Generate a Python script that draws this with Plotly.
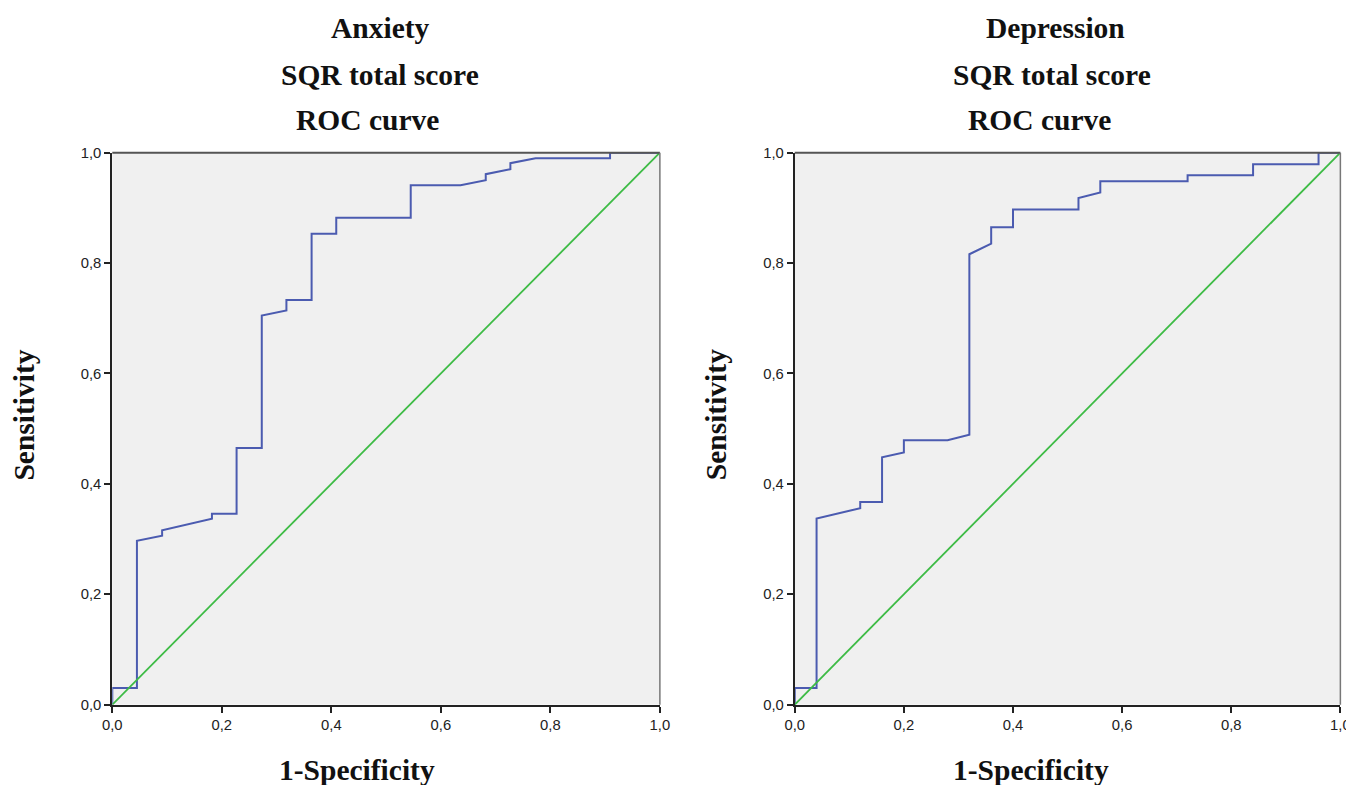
import plotly.graph_objects as go

W, H = 1354, 785

# ---- data ----
anx_fpr = [0, 0, 0.045, 0.045, 0.091, 0.091, 0.182, 0.182, 0.227, 0.227, 0.273, 0.273,
           0.318, 0.318, 0.364, 0.364, 0.409, 0.409, 0.545, 0.545, 0.636, 0.682, 0.682,
           0.727, 0.727, 0.773, 0.909, 0.909, 1.0]
anx_tpr = [0, 0.03, 0.03, 0.297, 0.306, 0.316, 0.337, 0.346, 0.346, 0.465, 0.465, 0.705,
           0.714, 0.733, 0.733, 0.853, 0.853, 0.882, 0.882, 0.941, 0.941, 0.950, 0.961,
           0.970, 0.981, 0.990, 0.990, 1.0, 1.0]

dep_fpr = [0, 0, 0.04, 0.04, 0.12, 0.12, 0.16, 0.16, 0.20, 0.20, 0.28, 0.32, 0.32,
           0.36, 0.36, 0.40, 0.40, 0.52, 0.52, 0.56, 0.56, 0.72, 0.72, 0.84, 0.84,
           0.96, 0.96, 1.0]
dep_tpr = [0, 0.03, 0.03, 0.337, 0.356, 0.367, 0.367, 0.448, 0.457, 0.479, 0.479, 0.489,
           0.816, 0.835, 0.865, 0.865, 0.897, 0.897, 0.918, 0.928, 0.948, 0.948, 0.959,
           0.959, 0.979, 0.979, 1.0, 1.0]

ref_x = [0, 1]
ref_y = [0, 1]

titles_left = ["Anxiety", "SQR total score", "ROC curve"]
titles_right = ["Depression", "SQR total score", "ROC curve"]
x_title = "1-Specificity"
y_title = "Sensitivity"
tick_vals = [0, 0.2, 0.4, 0.6, 0.8, 1.0]

BLUE = "#4B5BB0"
GREEN = "#3DBB45"


def px(x):
    return x / W


def py(y):
    return 1 - y / H


fig = go.Figure()

fig.add_trace(go.Scatter(x=anx_fpr, y=anx_tpr, mode="lines",
                         line=dict(color=BLUE, width=2), xaxis="x", yaxis="y",
                         showlegend=False))
fig.add_trace(go.Scatter(x=ref_x, y=ref_y, mode="lines",
                         line=dict(color=GREEN, width=1.8), xaxis="x", yaxis="y",
                         showlegend=False))
fig.add_trace(go.Scatter(x=dep_fpr, y=dep_tpr, mode="lines",
                         line=dict(color=BLUE, width=2), xaxis="x2", yaxis="y2",
                         showlegend=False))
fig.add_trace(go.Scatter(x=ref_x, y=ref_y, mode="lines",
                         line=dict(color=GREEN, width=1.8), xaxis="x2", yaxis="y2",
                         showlegend=False))

tickfont = dict(family="Liberation Sans, Arial, sans-serif", size=14.8, color="#222")
axis_common = dict(range=[0, 1], tickvals=tick_vals, tickformat=".1f",
                   showgrid=False, zeroline=False, showline=True,
                   linecolor="#222", linewidth=2, ticks="outside", ticklen=6,
                   tickwidth=1.5, tickcolor="#222", tickfont=tickfont,
                   fixedrange=True)

ytop, ybot = 139.5, 703
fig.update_layout(
    width=W, height=H,
    margin=dict(l=0, r=0, t=0, b=0),
    paper_bgcolor="white",
    plot_bgcolor="#F0F0F0",
    separators=",.",
    xaxis=dict(domain=[px(95.7), px(651.5)], anchor="y", **axis_common),
    yaxis=dict(domain=[py(ybot), py(ytop)], anchor="x", **axis_common),
    xaxis2=dict(domain=[px(788.4), px(1342.2)], anchor="y2", **axis_common),
    yaxis2=dict(domain=[py(ybot), py(ytop)], anchor="x2", **axis_common),
)

# top / right frame lines
for xr, yr in (("x", "y"), ("x2", "y2")):
    fig.add_shape(type="line", xref=f"{xr} domain", yref=f"{yr} domain",
                  x0=0, x1=1, y0=1, y1=1, line=dict(color="#555", width=2))
    fig.add_shape(type="line", xref=f"{xr} domain", yref=f"{yr} domain",
                  x0=1, x1=1, y0=0, y1=1, line=dict(color="#777", width=1.5))

titlefont = dict(family="Liberation Serif, Times New Roman, serif", size=29.5, color="#111")

annots = []
for text, xc, yc in zip(titles_left, [368, 367, 355], [12, 60, 106.5]):
    annots.append(dict(text=f"<b>{text}</b>", x=px(xc), y=py(yc)))
for text, xc, yc in zip(titles_right, [1053, 1050, 1037], [12, 60, 106.5]):
    annots.append(dict(text=f"<b>{text}</b>", x=px(xc), y=py(yc)))
annots.append(dict(text=f"<b>{x_title}</b>", x=px(344), y=py(770)))
annots.append(dict(text=f"<b>{x_title}</b>", x=px(1028), y=py(770)))
annots.append(dict(text=f"<b>{y_title}</b>", x=px(6), y=py(407), textangle=-90))
annots.append(dict(text=f"<b>{y_title}</b>", x=px(708), y=py(407), textangle=-90))

for a in annots:
    a.update(xref="paper", yref="paper", showarrow=False, font=titlefont,
             xanchor="center", yanchor="middle")
fig.update_layout(annotations=annots)

fig.write_html("out.html")
